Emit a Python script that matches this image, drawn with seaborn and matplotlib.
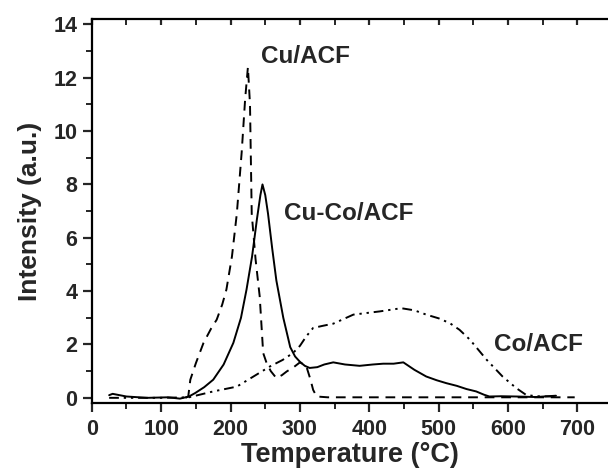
import numpy as np
import pandas as pd
import matplotlib
matplotlib.use("Agg")
import matplotlib.pyplot as plt
import seaborn as sns
from matplotlib.ticker import MultipleLocator

# Cu-Co/ACF (solid)
cuco_t = [25, 30, 50, 80, 110, 127, 140, 149, 162, 175, 190, 204, 215, 223, 231, 238, 243, 246,
          250, 254, 260, 266, 276, 286, 293, 300, 307, 314, 325, 335, 348, 365, 386, 405, 420,
          435, 449, 465, 482, 497, 511, 526, 540, 554, 565, 573, 590, 612, 640, 669]
cuco_i = [0.1, 0.15, 0.05, 0.0, 0.02, -0.03, 0.05, 0.18, 0.4, 0.68, 1.25, 2.06, 3.0, 4.06, 5.3,
          6.7, 7.6, 8.0, 7.6, 6.9, 5.6, 4.4, 3.0, 1.9, 1.55, 1.35, 1.2, 1.12, 1.15, 1.25, 1.33,
          1.25, 1.2, 1.25, 1.28, 1.28, 1.33, 1.05, 0.8, 0.66, 0.55, 0.45, 0.33, 0.24, 0.12, 0.05,
          0.06, 0.05, 0.03, 0.08]

# Cu/ACF (dashed)
cu_t = [135, 139, 142, 150, 161, 172, 180, 188, 194, 202, 209, 216, 221, 225, 228, 230.5,
        236, 242, 247, 252, 258, 266, 274, 281, 291, 300, 309, 315, 319, 324, 340, 400, 500,
        600, 696]
cu_i = [0.0, 0.05, 0.68, 1.3, 2.06, 2.6, 2.93, 3.5, 4.06, 5.3, 6.9, 9.2, 11.2, 12.4, 11.0, 6.9,
        5.2, 3.8, 1.68, 1.3, 1.0, 0.74, 0.85, 0.99, 1.15, 1.33, 1.2, 0.7, 0.3, 0.05, 0.02, 0.02,
        0.02, 0.02, 0.02]

# Co/ACF (dash-dot-dot)
co_t = [25, 60, 100, 140, 175, 209, 233, 257, 275, 290, 300, 309, 319, 333, 348, 377, 415,
        446, 465, 482, 500, 516, 530, 545, 569, 592, 612, 626, 640, 669]
co_i = [0.0, 0.0, 0.0, 0.02, 0.24, 0.42, 0.8, 1.18, 1.42, 1.68, 1.95, 2.3, 2.62, 2.7, 2.78,
        3.12, 3.24, 3.36, 3.28, 3.12, 2.98, 2.8, 2.55, 2.18, 1.43, 0.8, 0.36, 0.11, 0.06, 0.05]

labels = ["Cu/ACF", "Cu-Co/ACF", "Co/ACF"]
label_pos = [(244, 12.8), (277, 6.9), (579, 2.0)]

sns.set_theme(style="ticks")
plt.rcParams['font.family'] = ['Liberation Sans', 'DejaVu Sans']
plt.rcParams['font.weight'] = 'bold'

fig = plt.figure(figsize=(6.08, 4.76), dpi=100)
ax = fig.add_axes([0.151, 0.153, 0.849, 0.807])

sns.lineplot(x=cu_t, y=cu_i, color='black', linewidth=1.4, sort=False, ax=ax)
ax.lines[-1].set_dashes((5, 3.5))
sns.lineplot(x=cuco_t, y=cuco_i, color='black', linewidth=1.4, sort=False, ax=ax)
sns.lineplot(x=co_t, y=co_i, color='black', linewidth=1.4, sort=False, ax=ax)
ax.lines[-1].set_dashes((5, 2.5, 1.2, 2.5, 1.2, 2.5))

for lab, (tx, ty) in zip(labels, label_pos):
    ax.text(tx, ty, lab, fontsize=17.5, fontweight='bold', va='center', ha='left')

ax.set_xlim(0, 744)
ax.set_ylim(-0.2, 14.2)
ax.xaxis.set_major_locator(MultipleLocator(100))
ax.xaxis.set_minor_locator(MultipleLocator(50))
ax.yaxis.set_major_locator(MultipleLocator(2))
ax.yaxis.set_minor_locator(MultipleLocator(1))

ax.spines['right'].set_visible(False)
for s in ['left', 'bottom', 'top']:
    ax.spines[s].set_linewidth(1.6)
    ax.spines[s].set_color('black')

ax.tick_params(axis='x', which='major', direction='out', length=6.5, width=1.6,
               labelsize=15.5, top=True, pad=5)
ax.tick_params(axis='x', which='minor', direction='out', length=4, width=1.4, top=True)
ax.tick_params(axis='y', which='major', direction='out', length=6.5, width=1.6,
               labelsize=15.5, pad=4)
ax.tick_params(axis='y', which='minor', direction='out', length=4, width=1.4)
# top ticks point inward
for t in ax.xaxis.get_major_ticks() + ax.xaxis.get_minor_ticks():
    t.tick2line.set_marker(3)
    t.tick2line.set_markersize(4)

ax.set_xlabel('Temperature (°C)', fontsize=19.5, fontweight='bold', labelpad=1)
ax.set_ylabel('Intensity (a.u.)', fontsize=19, fontweight='bold', labelpad=8)

fig.savefig('out.png', dpi=100)
